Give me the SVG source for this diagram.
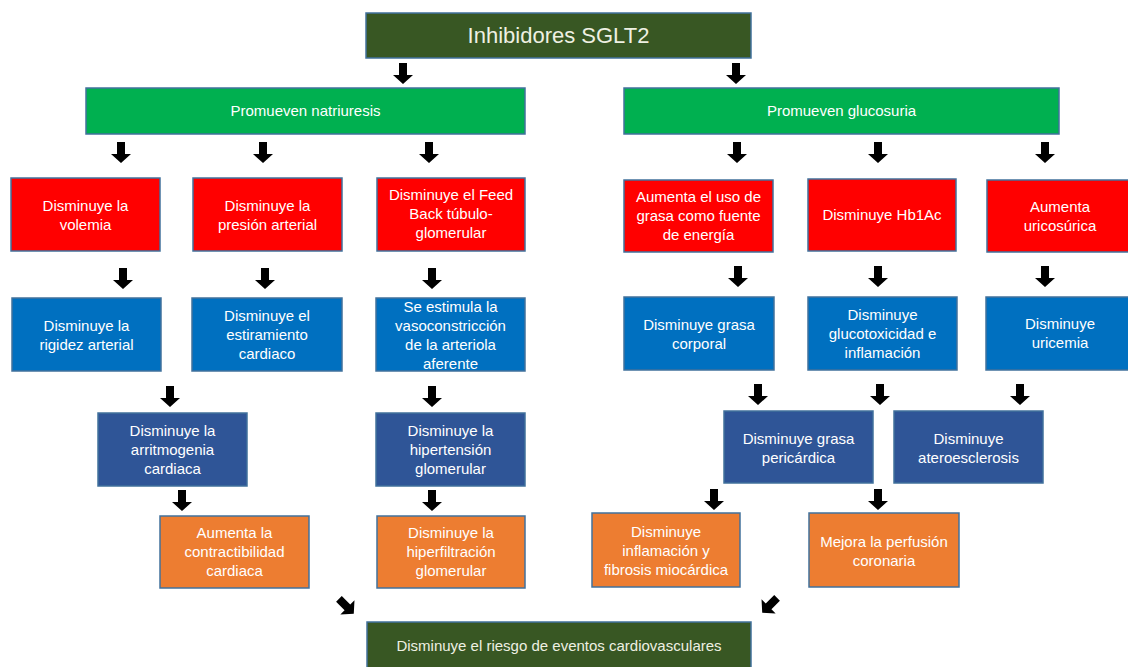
<svg xmlns="http://www.w3.org/2000/svg" xmlns:xlink="http://www.w3.org/1999/xlink" width="1128" height="667" viewBox="0 0 1128 667">
<style>
  .box { stroke: #41719c; stroke-width: 1.5; }
  .dg { fill: #385723; }
  .gr { fill: #00b050; }
  .rd { fill: #ff0000; }
  .bl { fill: #0070c0; }
  .db { fill: #2f5597; }
  .or { fill: #ed7d31; }
  text { font-family: "Liberation Sans", Arial, sans-serif; font-size: 15px; fill: #ffffff; text-anchor: middle; }
  .title { font-size: 22px; fill: #eef0e2; }
  .pale { fill: #eef0e2; }
  .arrow { fill: #000000; }
</style>
<defs>
  <path id="arr" d="M-4,0 H4 V12 H10 L0,21 L-10,12 H-4 Z"/>
</defs>
<rect width="1128" height="667" fill="#ffffff"/>

<g id="connectors" class="arrow">
  <use xlink:href="#arr" href="#arr" x="403" y="63"/>
  <use xlink:href="#arr" href="#arr" x="736" y="63"/>
  <use xlink:href="#arr" href="#arr" x="121" y="142"/>
  <use xlink:href="#arr" href="#arr" x="263" y="142"/>
  <use xlink:href="#arr" href="#arr" x="429" y="142"/>
  <use xlink:href="#arr" href="#arr" x="737" y="142"/>
  <use xlink:href="#arr" href="#arr" x="878" y="142"/>
  <use xlink:href="#arr" href="#arr" x="1045" y="142"/>
  <use xlink:href="#arr" href="#arr" x="123" y="268"/>
  <use xlink:href="#arr" href="#arr" x="265" y="268"/>
  <use xlink:href="#arr" href="#arr" x="432" y="268"/>
  <use xlink:href="#arr" href="#arr" x="738" y="266"/>
  <use xlink:href="#arr" href="#arr" x="878" y="266"/>
  <use xlink:href="#arr" href="#arr" x="1045" y="266"/>
  <use xlink:href="#arr" href="#arr" x="170" y="386"/>
  <use xlink:href="#arr" href="#arr" x="432" y="386"/>
  <use xlink:href="#arr" href="#arr" x="758" y="384"/>
  <use xlink:href="#arr" href="#arr" x="880" y="384"/>
  <use xlink:href="#arr" href="#arr" x="1020" y="384"/>
  <use xlink:href="#arr" href="#arr" x="182" y="490"/>
  <use xlink:href="#arr" href="#arr" x="432" y="490"/>
  <use xlink:href="#arr" href="#arr" x="714" y="489"/>
  <use xlink:href="#arr" href="#arr" x="878" y="489"/>
  <g transform="translate(346,606) rotate(-45) translate(0,-10)"><use xlink:href="#arr" href="#arr"/></g>
  <g transform="translate(770,605) rotate(45) translate(0,-10)"><use xlink:href="#arr" href="#arr"/></g>
</g>

<g id="n-title">
  <rect class="box dg" x="366" y="13" width="385" height="45"/>
  <text class="title" x="558.5" y="43">Inhibidores SGLT2</text>
</g>

<g id="n-natriuresis">
  <rect class="box gr" x="86" y="88" width="439" height="46"/>
  <text x="305.5" y="116">Promueven natriuresis</text>
</g>
<g id="n-glucosuria">
  <rect class="box gr" x="624" y="88" width="435" height="46"/>
  <text x="841.5" y="116">Promueven glucosuria</text>
</g>

<g id="n-volemia">
  <rect class="box rd" x="11" y="178" width="149" height="73"/>
  <text x="85.5" y="211">Disminuye la</text>
  <text x="85.5" y="230">volemia</text>
</g>
<g id="n-presion">
  <rect class="box rd" x="193" y="178" width="149" height="73"/>
  <text x="267.5" y="211">Disminuye la</text>
  <text x="267.5" y="230">presión arterial</text>
</g>
<g id="n-feedback">
  <rect class="box rd" x="377" y="178" width="148" height="73"/>
  <text x="451" y="200">Disminuye el Feed</text>
  <text x="451" y="219">Back túbulo-</text>
  <text x="451" y="238">glomerular</text>
</g>
<g id="n-grasa-energia">
  <rect class="box rd" x="624" y="180" width="149" height="72"/>
  <text x="698.5" y="202">Aumenta el uso de</text>
  <text x="698.5" y="221">grasa como fuente</text>
  <text x="698.5" y="240">de energía</text>
</g>
<g id="n-hb1ac">
  <rect class="box rd" x="808" y="179" width="148" height="72"/>
  <text x="882" y="220">Disminuye Hb1Ac</text>
</g>
<g id="n-uricosurica">
  <rect class="box rd" x="987" y="180" width="146" height="72"/>
  <text x="1060" y="212">Aumenta</text>
  <text x="1060" y="231">uricosúrica</text>
</g>

<g id="n-rigidez">
  <rect class="box bl" x="12" y="298" width="149" height="73"/>
  <text x="86.5" y="331">Disminuye la</text>
  <text x="86.5" y="350">rigidez arterial</text>
</g>
<g id="n-estiramiento">
  <rect class="box bl" x="192" y="298" width="150" height="73"/>
  <text x="267" y="321">Disminuye el</text>
  <text x="267" y="340">estiramiento</text>
  <text x="267" y="359">cardiaco</text>
</g>
<g id="n-vasoconstriccion">
  <rect class="box bl" x="376" y="298" width="149" height="73"/>
  <text x="450.5" y="312">Se estimula la</text>
  <text x="450.5" y="331">vasoconstricción</text>
  <text x="450.5" y="350">de la arteriola</text>
  <text x="450.5" y="369">aferente</text>
</g>
<g id="n-grasa-corporal">
  <rect class="box bl" x="624" y="297" width="150" height="73"/>
  <text x="699" y="330">Disminuye grasa</text>
  <text x="699" y="349">corporal</text>
</g>
<g id="n-glucotoxicidad">
  <rect class="box bl" x="808" y="297" width="149" height="73"/>
  <text x="882.5" y="320">Disminuye</text>
  <text x="882.5" y="339">glucotoxicidad e</text>
  <text x="882.5" y="358">inflamación</text>
</g>
<g id="n-uricemia">
  <rect class="box bl" x="986" y="297" width="148" height="73"/>
  <text x="1060" y="329">Disminuye</text>
  <text x="1060" y="348">uricemia</text>
</g>

<g id="n-arritmogenia">
  <rect class="box db" x="98" y="413" width="149" height="73"/>
  <text x="172.5" y="436">Disminuye la</text>
  <text x="172.5" y="455">arritmogenia</text>
  <text x="172.5" y="474">cardiaca</text>
</g>
<g id="n-hipertension">
  <rect class="box db" x="376" y="413" width="149" height="73"/>
  <text x="450.5" y="436">Disminuye la</text>
  <text x="450.5" y="455">hipertensión</text>
  <text x="450.5" y="474">glomerular</text>
</g>
<g id="n-pericardica">
  <rect class="box db" x="724" y="411" width="149" height="72"/>
  <text x="798.5" y="444">Disminuye grasa</text>
  <text x="798.5" y="463">pericárdica</text>
</g>
<g id="n-ateroesclerosis">
  <rect class="box db" x="894" y="411" width="149" height="72"/>
  <text x="968.5" y="444">Disminuye</text>
  <text x="968.5" y="463">ateroesclerosis</text>
</g>

<g id="n-contractibilidad">
  <rect class="box or" x="160" y="516" width="149" height="72"/>
  <text x="234.5" y="538">Aumenta la</text>
  <text x="234.5" y="557">contractibilidad</text>
  <text x="234.5" y="576">cardiaca</text>
</g>
<g id="n-hiperfiltracion">
  <rect class="box or" x="377" y="516" width="148" height="72"/>
  <text x="451" y="538">Disminuye la</text>
  <text x="451" y="557">hiperfiltración</text>
  <text x="451" y="576">glomerular</text>
</g>
<g id="n-fibrosis">
  <rect class="box or" x="592" y="513" width="148" height="74"/>
  <text x="666" y="537">Disminuye</text>
  <text x="666" y="556">inflamación y</text>
  <text x="666" y="575">fibrosis miocárdica</text>
</g>
<g id="n-perfusion">
  <rect class="box or" x="809" y="513" width="150" height="74"/>
  <text x="884" y="547">Mejora la perfusión</text>
  <text x="884" y="566">coronaria</text>
</g>

<g id="n-riesgo">
  <rect class="box dg" x="367" y="622" width="384" height="50"/>
  <text class="pale" x="559" y="651">Disminuye el riesgo de eventos cardiovasculares</text>
</g>
</svg>
